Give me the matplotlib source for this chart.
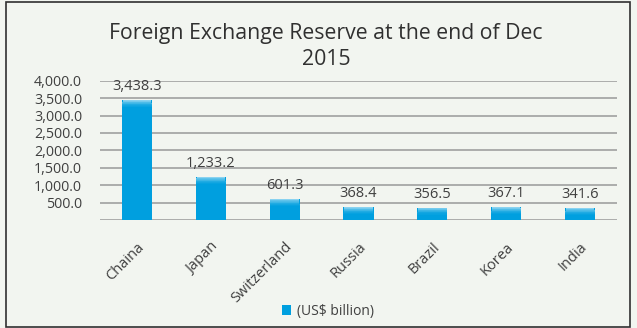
import matplotlib
matplotlib.use("Agg")
import matplotlib.pyplot as plt
import numpy as np

countries = ["Chaina", "Japan", "Switzerland", "Russia", "Brazil", "Korea", "India"]
reserves = [3438.3, 1233.2, 601.3, 368.4, 356.5, 367.1, 341.6]
yticks = [500, 1000, 1500, 2000, 2500, 3000, 3500, 4000]
title = "Foreign Exchange Reserve at the end of Dec\n2015"
legend_label = "(US$ billion)"

plt.rcParams['font.family'] = ['Open Sans', 'DejaVu Sans']
bg = "#F2F5F0"
blue = "#009FDF"
txt = "#404040"

fig = plt.figure(figsize=(6.37, 3.28), dpi=100, facecolor=bg)
ax = fig.add_axes([100/637, 1-220/328, 517/637, (220-80.7)/328])
ax.set_facecolor(bg)

x = np.arange(len(countries))
ax.bar(x, reserves, width=0.41, color=blue, zorder=3, label=legend_label)

# top bevel highlight
cap = 200
n = 10
for i in range(n):
    frac = i / n
    bottoms = [v - cap + cap * frac for v in reserves]
    ax.bar(x, [cap / n] * len(x), bottom=bottoms, width=0.41 * (1 - 0.07 * frac),
           color="white", alpha=0.03 + 0.6 * frac ** 1.5, zorder=4, linewidth=0)

for xi, v in zip(x, reserves):
    ax.text(xi, v + 170, f"{v:,.1f}", ha="center", va="bottom", fontsize=10.5, color=txt, zorder=5)

ax.set_xlim(-0.5, len(countries) - 0.5)
ax.set_ylim(0, 4000)
ax.set_yticks(yticks)
ax.set_yticklabels([f"{t:,.1f}" for t in yticks], fontsize=10.3, color=txt)
ax.set_xticks(x)
ax.set_xticklabels(countries, rotation=45, ha="right", rotation_mode="anchor", fontsize=10.5, color=txt)
ax.tick_params(length=0)
ax.tick_params(axis="y", pad=13)
ax.tick_params(axis="x", pad=14)
ax.grid(axis="y", color="#A0A0A0", linewidth=1.2, zorder=0)
ax.axhline(0, color="#A0A0A0", linewidth=1.2, zorder=2)
for s in ax.spines.values():
    s.set_visible(False)

fig.text(326/637, 1 - 46.5/328, title, ha="center", va="center", fontsize=15.3, color="#303030",
         linespacing=1.28)

leg = fig.legend(loc="center", bbox_to_anchor=(328/637, 1 - 311/328), frameon=False,
                 fontsize=10, handlelength=0.7, handleheight=0.7, handletextpad=0.45,
                 labelcolor=txt)

border = plt.Rectangle((6/637, 1/328), 624/637, 325/328, transform=fig.transFigure,
                       fill=False, edgecolor="#303030", linewidth=1.2)
fig.patches.append(border)

fig.savefig("out.png", dpi=100, facecolor=bg)
